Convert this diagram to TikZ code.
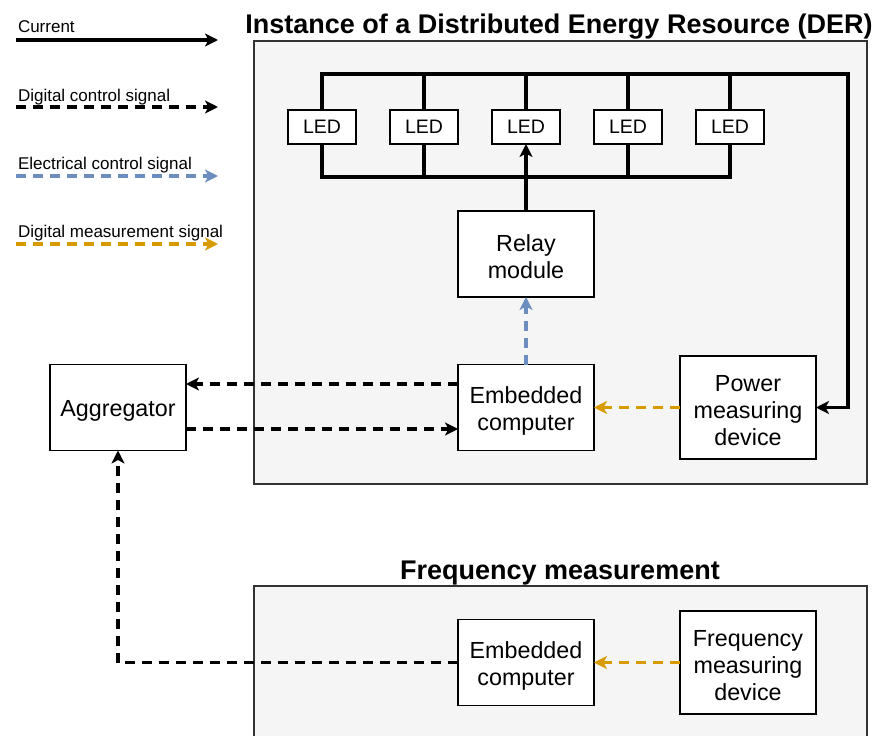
\documentclass[tikz,border=0pt]{standalone}
\usepackage{fontspec}
\setmainfont{Liberation Sans}
\usetikzlibrary{arrows.meta}
\definecolor{cblue}{HTML}{6C8EBF}
\definecolor{corange}{HTML}{D79B00}
\definecolor{cfill}{HTML}{F5F5F5}
\definecolor{cborder}{HTML}{333333}
\begin{document}
\begin{tikzpicture}[x=1pt,y=-1pt,
  every node/.style={inner sep=0pt,outer sep=0pt},
  box/.style={draw=black,fill=white,line width=1.6pt,minimum width=136pt,minimum height=86pt},
  boxtext/.style={align=center,font=\fontsize{23.3}{27}\selectfont,yshift=-3pt},
  ledbox/.style={draw=black,fill=white,line width=1.6pt,minimum width=68pt,minimum height=34pt,font=\fontsize{19.5}{23}\selectfont},
  container/.style={draw=cborder,fill=cfill,line width=1.6pt},
  ctitle/.style={font=\fontsize{27}{31}\selectfont\bfseries},
  leglabel/.style={anchor=base west,font=\fontsize{17}{20}\selectfont},
  tip/.style={-{Stealth[length=13pt,width=13pt,inset=3.5pt]}},
  cur/.style={line width=3.2pt,black},
  dctl/.style={line width=3.2pt,black,dash pattern=on 10pt off 7pt,tip},
  ectl/.style={line width=3.2pt,cblue,dash pattern=on 10pt off 7pt,tip},
  dmeas/.style={line width=3.2pt,corange,dash pattern=on 10pt off 7pt,tip},
]
\useasboundingbox (0,0) rectangle (879,736);
% containers
\path[container] (254,41) rectangle (867,484);
\path[container] (254,586) rectangle (867,740);
\node[ctitle] (dertitle) at (559,27) {Instance of a Distributed Energy Resource (DER)};
\node[ctitle] (freqtitle) at (560,573) {Frequency measurement};
% legend
\node[leglabel] (l1) at (18,32) {Current};
\node[leglabel] (l2) at (18,101) {Digital control signal};
\node[leglabel] (l3) at (18,169) {Electrical control signal};
\node[leglabel] (l4) at (18,237) {Digital measurement signal};
\coordinate (a1s) at (16,40); \coordinate (a1e) at (218,40);
\coordinate (a2s) at (16,107); \coordinate (a2e) at (218,107);
\coordinate (a3s) at (16,176); \coordinate (a3e) at (218,176);
\coordinate (a4s) at (16,244); \coordinate (a4e) at (218,244);
\draw[cur,tip] (a1s) -- (a1e);
\draw[dctl] (a2s) -- (a2e);
\draw[ectl] (a3s) -- (a3e);
\draw[dmeas] (a4s) -- (a4e);
% LEDs
\node[ledbox] (led1) at (322,127) {LED};
\node[ledbox] (led2) at (424,127) {LED};
\node[ledbox] (led3) at (526,127) {LED};
\node[ledbox] (led4) at (628,127) {LED};
\node[ledbox] (led5) at (730,127) {LED};
% boxes
\node[box,label={[boxtext]center:Relay\\module}] (relay) at (526,254) {};
\node[box,label={[boxtext]center:Embedded\\computer}] (emb1) at (526,407.5) {};
\node[box,minimum height=103pt,label={[boxtext]center:Power\\measuring\\device}] (pmd) at (748,407.5) {};
\node[box,label={[boxtext]center:Aggregator}] (agg) at (118,407.5) {};
\node[box,label={[boxtext]center:Embedded\\computer}] (emb2) at (526,662.5) {};
\node[box,minimum height=103pt,label={[boxtext]center:Frequency\\measuring\\device}] (fmd) at (748,662.5) {};
% current wiring
\coordinate (tr) at (848,74);
\coordinate (yb) at (0,177);
\draw[cur,tip,line join=miter] (led1.north) |- (tr) |- (pmd.east);
\foreach \i in {2,3,4,5} \draw[cur] (led\i.north) -- (led\i.north |- tr);
\draw[cur,line join=miter] (led1.south) |- (led5.south |- yb) -- (led5.south);
\foreach \i in {2,4} \draw[cur] (led\i.south) -- (led\i.south |- yb);
\draw[cur,tip] (relay.north) -- (led3.south);
% signals
\draw[ectl] (emb1.north) -- (relay.south);
\draw[dmeas] (pmd.west) -- (emb1.east);
\draw[dctl] (emb1.west |- 0,384) -- (agg.east |- 0,384);
\draw[dctl] (agg.east |- 0,429) -- (emb1.west |- 0,429);
\draw[dmeas] (fmd.west) -- (emb2.east);
\draw[dctl] (emb2.west) -| (agg.south);
\end{tikzpicture}
\end{document}
